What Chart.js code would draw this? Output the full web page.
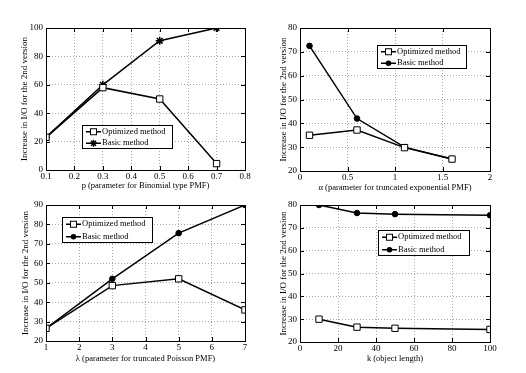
<!DOCTYPE html>
<html>
<head>
<meta charset="utf-8">
<script src="https://cdn.jsdelivr.net/npm/chart.js@4/dist/chart.umd.min.js"></script>
<style>
body { margin: 0; background: #fff; width: 526px; height: 373px; position: relative; overflow: hidden; }
canvas { position: absolute; }
</style>
</head>
<body>
<canvas id="c1" width="263" height="192" style="left:0;top:0"></canvas>
<canvas id="c2" width="263" height="193" style="left:263px;top:0"></canvas>
<canvas id="c3" width="263" height="180" style="left:0;top:186px"></canvas>
<canvas id="c4" width="263" height="180" style="left:263px;top:186px"></canvas>
<script>
// data
var pValues = [0.1, 0.3, 0.5, 0.7];
var pOptimized = [23, 58, 50, 4.5];
var pBasic = [23, 60, 91, 100];

var alphaValues = [0.1, 0.6, 1.1, 1.6];
var alphaOptimized = [35, 37.2, 29.8, 25];
var alphaBasic = [72.5, 42, 30, 25];

var lambdaValues = [1, 3, 5, 7];
var lambdaOptimized = [26.5, 48.5, 52, 36];
var lambdaBasic = [26.5, 52, 75.5, 90];

var kValues = [10, 30, 50, 100];
var kOptimized = [30, 26.5, 26, 25.5];
var kBasic = [80, 76.5, 76, 75.5];

var yTitle = 'Increase in I/O for the 2nd version';
var seriesNames = ['Optimized method', 'Basic method'];
var FONT = 'Liberation Serif, Times New Roman, serif';

function toPoints(xs, ys) {
    var pts = [];
    for (var i = 0; i < xs.length; i++) pts.push({x: xs[i], y: ys[i]});
    return pts;
}

function tickText(v) {
    return String(Math.round(v * 100) / 100);
}

function drawMarker(ctx, style, x, y) {
    ctx.save();
    ctx.strokeStyle = '#000';
    ctx.lineWidth = 1;
    if (style == 'rect') {
        ctx.fillStyle = '#fff';
        ctx.fillRect(x - 3, y - 3, 6, 6);
        ctx.strokeRect(x - 3, y - 3, 6, 6);
    } else if (style == 'star') {
        ctx.lineWidth = 1.5;
        ctx.beginPath();
        for (var a = 0; a < 4; a++) {
            var ang = a * Math.PI / 4;
            ctx.moveTo(x - 3.5 * Math.cos(ang), y - 3.5 * Math.sin(ang));
            ctx.lineTo(x + 3.5 * Math.cos(ang), y + 3.5 * Math.sin(ang));
        }
        ctx.stroke();
    } else {
        ctx.fillStyle = '#000';
        ctx.beginPath();
        ctx.arc(x, y, 2.8, 0, Math.PI * 2);
        ctx.fill();
    }
    ctx.restore();
}

// box around the plot, inward ticks and the little legend box
var framePlugin = {
    id: 'frame',
    afterDraw: function(chart, args, opts) {
        var ctx = chart.ctx;
        var a = chart.chartArea;
        ctx.save();
        ctx.strokeStyle = '#000';
        ctx.lineWidth = 1;
        ctx.strokeRect(Math.round(a.left) + 0.5, Math.round(a.top) + 0.5,
            Math.round(a.right - a.left), Math.round(a.bottom - a.top));
        ctx.beginPath();
        var xs = chart.scales.x, ys = chart.scales.y;
        xs.ticks.forEach(function(t) {
            var px = Math.round(xs.getPixelForValue(t.value)) + 0.5;
            ctx.moveTo(px, a.bottom); ctx.lineTo(px, a.bottom - 4);
            ctx.moveTo(px, a.top); ctx.lineTo(px, a.top + 4);
        });
        ys.ticks.forEach(function(t) {
            var py = Math.round(ys.getPixelForValue(t.value)) + 0.5;
            ctx.moveTo(a.left, py); ctx.lineTo(a.left + 4, py);
            ctx.moveTo(a.right, py); ctx.lineTo(a.right - 4, py);
        });
        ctx.stroke();

        // legend
        var b = opts.box;
        ctx.fillStyle = '#fff';
        ctx.fillRect(b.x, b.y, b.w, b.h);
        ctx.strokeRect(b.x + 0.5, b.y + 0.5, b.w, b.h);
        ctx.font = '8.5px ' + FONT;
        ctx.textBaseline = 'middle';
        var rowH = b.h / 2;
        chart.data.datasets.forEach(function(ds, i) {
            var cy = b.y + rowH * i + rowH / 2 + 1;
            ctx.strokeStyle = '#000';
            ctx.lineWidth = 1.5;
            ctx.beginPath();
            ctx.moveTo(b.x + 4, cy); ctx.lineTo(b.x + 19, cy);
            ctx.stroke();
            drawMarker(ctx, ds.pointStyle, b.x + 11.5, cy);
            ctx.fillStyle = '#000';
            ctx.fillText(ds.label, b.x + 20, cy);
        });
        ctx.restore();
    }
};

function makeChart(id, xs, optY, basicY, basicStyle, sc, lay) {
    new Chart(document.getElementById(id), {
        type: 'line',
        data: {
            datasets: [{
                label: seriesNames[0],
                data: toPoints(xs, optY),
                borderColor: '#000',
                borderWidth: 1.5,
                pointStyle: 'rect',
                pointRadius: 4.5,
                pointBackgroundColor: '#fff',
                pointBorderColor: '#000',
                pointBorderWidth: 1
            }, {
                label: seriesNames[1],
                data: toPoints(xs, basicY),
                borderColor: '#000',
                borderWidth: 1.5,
                pointStyle: basicStyle,
                pointRadius: basicStyle == 'star' ? 4 : 2.8,
                pointBackgroundColor: '#000',
                pointBorderColor: '#000',
                pointBorderWidth: basicStyle == 'star' ? 1.5 : 1
            }]
        },
        options: {
            responsive: false,
            animation: false,
            layout: {padding: {left: 0, top: lay.top, right: lay.right, bottom: 0}},
            plugins: {
                legend: {display: false},
                tooltip: {enabled: false},
                frame: {box: lay.legend}
            },
            scales: {
                x: {
                    type: 'linear',
                    min: sc.xMin, max: sc.xMax,
                    afterFit: function(s) { s.height = lay.xHeight; },
                    ticks: {stepSize: sc.xStep, padding: 1, color: '#000', maxRotation: 0,
                        font: {family: FONT, size: 9}, callback: tickText},
                    grid: {color: '#aaa', drawTicks: false},
                    border: {display: false, dash: [1, 2]},
                    title: {display: true, text: sc.xTitle, color: '#000',
                        font: {family: FONT, size: 8.5}, padding: {top: 0, bottom: lay.xTitlePad}}
                },
                y: {
                    min: sc.yMin, max: sc.yMax,
                    afterFit: function(s) { s.width = lay.yWidth; },
                    ticks: {stepSize: sc.yStep, padding: 3, color: '#000',
                        font: {family: FONT, size: 9}, callback: tickText},
                    grid: {color: '#aaa', drawTicks: false},
                    border: {display: false, dash: [1, 2]},
                    title: {display: true, text: yTitle, color: '#000',
                        font: {family: FONT, size: 9}, padding: {top: lay.yTitlePad, bottom: 0}}
                }
            }
        },
        plugins: [framePlugin]
    });
}

makeChart('c1', pValues, pOptimized, pBasic, 'star',
    {xMin: 0.1, xMax: 0.8, xStep: 0.1, yMin: 0, yMax: 100, yStep: 20,
     xTitle: 'p (parameter for Binomial type PMF)'},
    {top: 28, right: 18, yWidth: 46, xHeight: 22, yTitlePad: 19, xTitlePad: 1,
     legend: {x: 82, y: 125, w: 90, h: 23}});

makeChart('c2', alphaValues, alphaOptimized, alphaBasic, 'circle',
    {xMin: 0, xMax: 2, xStep: 0.5, yMin: 20, yMax: 80, yStep: 10,
     xTitle: 'α (parameter for truncated exponential PMF)'},
    {top: 28, right: 36, yWidth: 37, xHeight: 22, yTitlePad: 15, xTitlePad: 0,
     legend: {x: 114, y: 45, w: 89, h: 23}});

makeChart('c3', lambdaValues, lambdaOptimized, lambdaBasic, 'circle',
    {xMin: 1, xMax: 7, xStep: 1, yMin: 20, yMax: 90, yStep: 10,
     xTitle: 'λ (parameter for truncated Poisson PMF)'},
    {top: 19, right: 18, yWidth: 46, xHeight: 25, yTitlePad: 20, xTitlePad: 2,
     legend: {x: 62, y: 31, w: 90, h: 25}});

makeChart('c4', kValues, kOptimized, kBasic, 'circle',
    {xMin: 0, xMax: 100, xStep: 20, yMin: 20, yMax: 80, yStep: 10,
     xTitle: 'k (object length)'},
    {top: 19, right: 36, yWidth: 37, xHeight: 24, yTitlePad: 15, xTitlePad: 2,
     legend: {x: 115, y: 44, w: 91, h: 25}});
</script>
</body>
</html>
